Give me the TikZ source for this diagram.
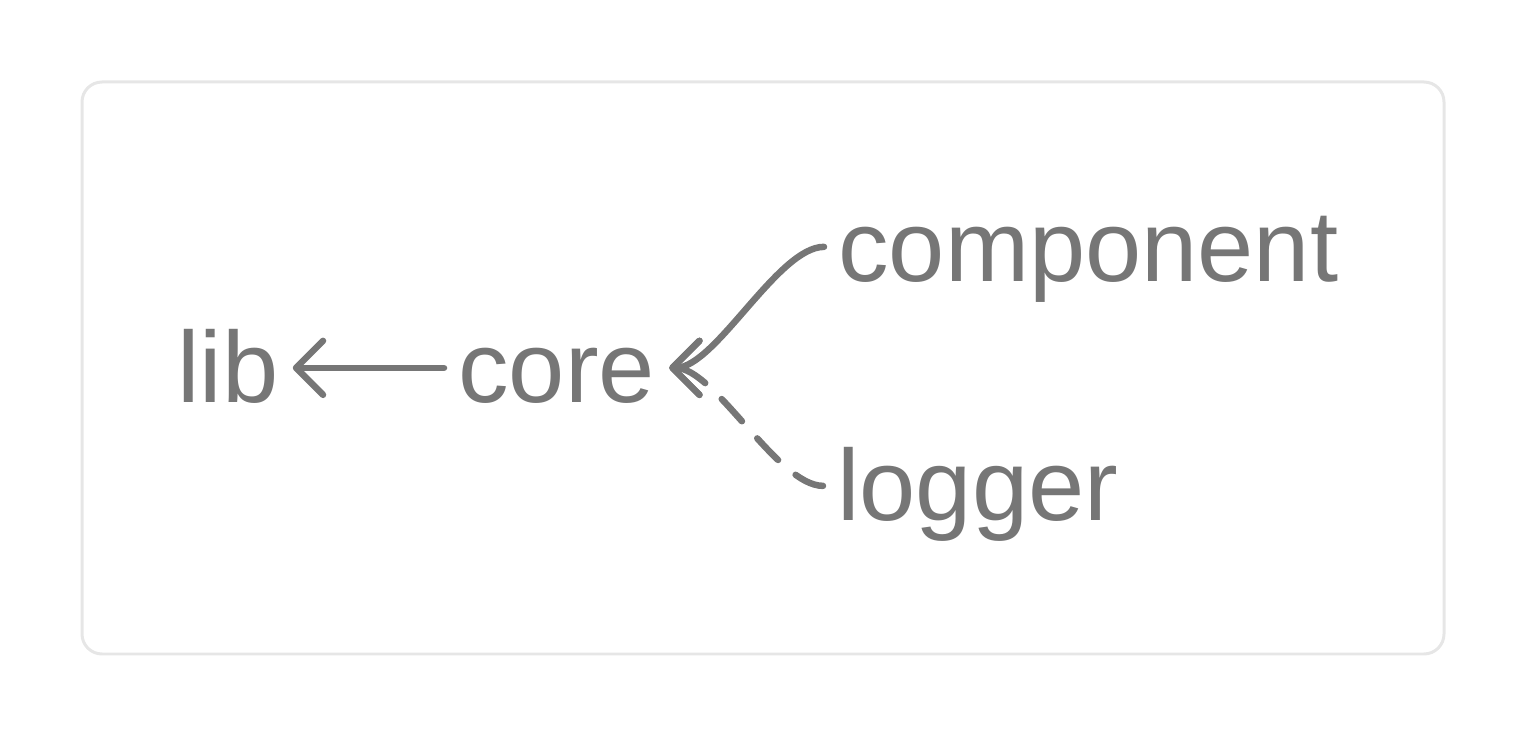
\documentclass[tikz,border=0pt]{standalone}
\usepackage{fontspec}
\setmainfont{Liberation Sans}
\usetikzlibrary{arrows.meta}
\definecolor{txtgray}{HTML}{767676}
\definecolor{boxgray}{HTML}{E6E6E6}

\begin{document}
\begin{tikzpicture}[x=0.02cm, y=-0.02cm,
    pkg/.style={anchor=base west, inner xsep=0.28cm, inner ysep=0pt,
      text height=40pt, text depth=0pt, text=txtgray,
      font=\fontsize{57.5}{69}\selectfont},
    dep/.style={draw=txtgray, line width=0.13cm, line cap=round,
      -{Straight Barb[length=0.54cm, width=1.08cm, round]}}]
  \useasboundingbox (0,0) rectangle (1526,736);
  % cadre
  \draw[boxgray, line width=0.06cm, rounded corners=0.4cm] (82,82) rectangle (1444,654);
  % paquets
  \node[pkg] (lib) at (163,403) {lib};
  \node[pkg] (core) at (444,403) {core};
  \node[pkg] (component) at (824,282) {component};
  \node[pkg] (logger) at (823,521) {logger};
  % dependances
  \draw[dep] (core) -- (lib);
  \draw[dep] (component.west) to[out=180, in=0, looseness=0.6] (core.east);
  \draw[dep, dash pattern=on 0.6cm off 0.46cm] (logger.west) to[out=180, in=0, looseness=0.6] (core.east);
\end{tikzpicture}
\end{document}
